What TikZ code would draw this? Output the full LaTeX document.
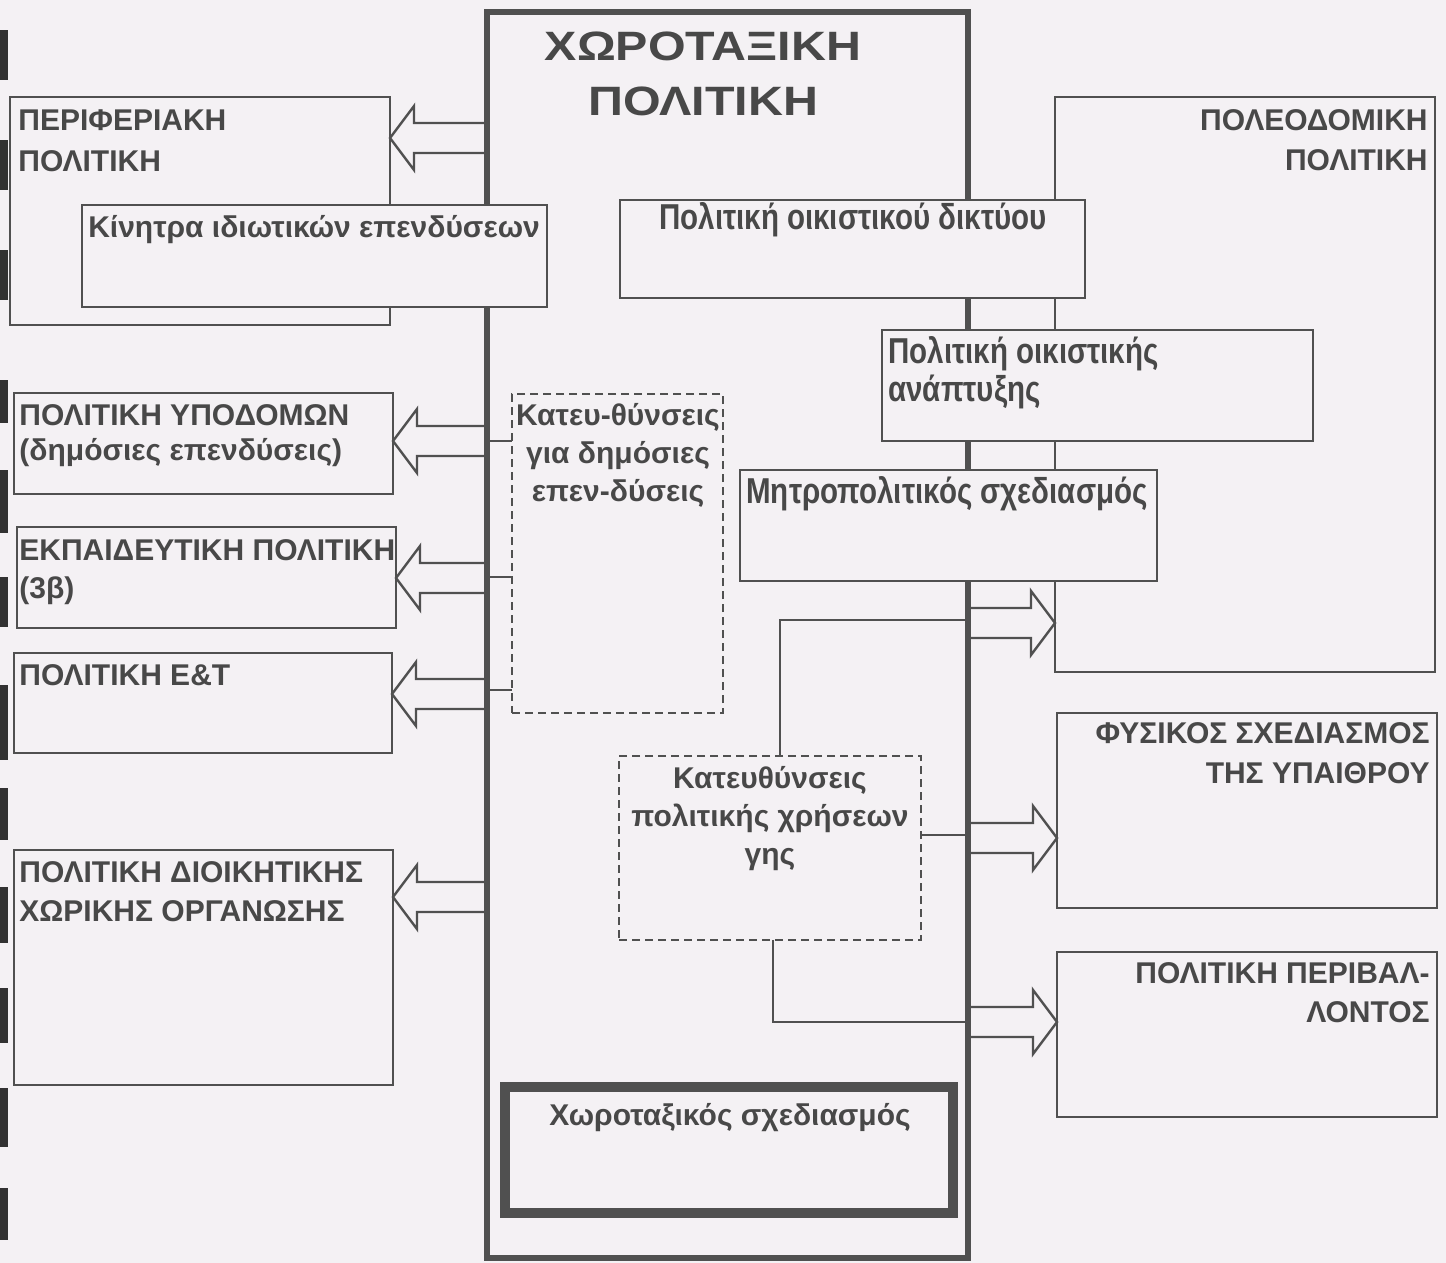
\documentclass[tikz,border=0pt]{standalone}
\usepackage{fontspec}
\setmainfont{Liberation Sans}
\newfontfamily\nfont{Liberation Sans}[FakeStretch=0.82]
\newfontfamily\tfont{Liberation Sans}[FakeStretch=1.18]
\usetikzlibrary{calc}
\definecolor{bg}{RGB}{244,241,244}
\definecolor{ln}{RGB}{80,80,80}
\definecolor{tx}{RGB}{72,72,72}
\definecolor{mk}{RGB}{50,50,50}
\tikzset{
  box/.style={draw=ln, line width=1.2pt, fill=bg, inner sep=0pt, outer sep=0pt, anchor=north west},
  mainbox/.style={box, line width=3pt},
  planbox/.style={box, line width=5pt},
  dbox/.style={box, line width=1pt, dash pattern=on 4pt off 2.5pt},
  conn/.style={draw=ln, line width=1.2pt, line join=miter},
  txt/.style={text=tx, inner sep=0pt, font=\fontsize{15}{18}\selectfont\bfseries},
  ntxt/.style={text=tx, inner sep=0pt, font=\fontsize{18}{21}\selectfont\nfont\bfseries},
  ttl/.style={text=tx, inner sep=0pt, font=\fontsize{20.5}{24}\selectfont\tfont\bfseries},
  scanmark/.style={fill=mk}
}
\newcommand\mkbox[6]{\node[#2, minimum width={(#5-#3)*0.5pt}, minimum height={(#6-#4)*0.5pt}] (#1) at (#3,#4) {};}
% hollow arrow pointing left: #1 source node, #2 target node, #3 y
\newcommand\larrow[3]{%
  \path (#1.west |- 0,#3) coordinate (aB) (#2.east |- 0,#3) coordinate (aT);
  \draw[conn] ($(aB)+(0,-15)$) -- ($(aT)+(24,-15)$) -- ($(aT)+(24,-32)$) -- (aT)
     -- ($(aT)+(24,32)$) -- ($(aT)+(24,15)$) -- ($(aB)+(0,15)$);}
\newcommand\rarrow[3]{%
  \path (#1.east |- 0,#3) coordinate (aB) (#2.west |- 0,#3) coordinate (aT);
  \draw[conn] ($(aB)+(0,-15)$) -- ($(aT)+(-24,-15)$) -- ($(aT)+(-24,-32)$) -- (aT)
     -- ($(aT)+(-24,32)$) -- ($(aT)+(-24,15)$) -- ($(aB)+(0,15)$);}
\begin{document}
\begin{tikzpicture}[x=0.5pt,y=-0.5pt]
\useasboundingbox (0,0) rectangle (1446,1263);
\fill[bg] (0,0) rectangle (1446,1263);
% scan marks on the left edge
\foreach \a/\b in {30/80,140/190,250/300,380/423,470/533,577/627,685/760,788/840,887/943,988/1043,1088/1147,1188/1240}
  \fill[scanmark] (0,\a) rectangle (8,\b);
% main box
\mkbox{main}{mainbox}{487}{12}{968}{1258}
\node[ttl, anchor=base] (title1) at (703,61) {ΧΩΡΟΤΑΞΙΚΗ};
\node[ttl, anchor=base] (title2) at (703,116) {ΠΟΛΙΤΙΚΗ};
% background boxes
\mkbox{perif}{box}{10}{97}{390}{325}
\mkbox{poleod}{box}{1055}{97}{1435}{672}
\mkbox{ypod}{box}{14}{393}{393}{494}
\mkbox{ekp}{box}{17}{527}{396}{628}
\mkbox{et}{box}{14}{653}{392}{753}
\mkbox{dioik}{box}{14}{850}{393}{1085}
\mkbox{fys}{box}{1057}{713}{1437}{908}
\mkbox{periv}{box}{1057}{952}{1437}{1117}
% arrows
\larrow{main}{perif}{138}
\larrow{main}{ypod}{441}
\larrow{main}{ekp}{578}
\larrow{main}{et}{694}
\larrow{main}{dioik}{897}
\rarrow{main}{poleod}{623}
\rarrow{main}{fys}{838}
\rarrow{main}{periv}{1022}
% overlaying boxes
\mkbox{kin}{box}{82}{205}{547}{307}
\mkbox{oikd}{box}{620}{200}{1085}{298}
\mkbox{oika}{box}{882}{330}{1313}{441}
\mkbox{mitro}{box}{740}{470}{1157}{581}
\mkbox{dA}{dbox}{512}{394}{723}{713}
\mkbox{dB}{dbox}{619}{756}{921}{940}
\mkbox{xwro}{planbox}{505}{1087}{953}{1213}
% connectors
\draw[conn] (main.west |- 0,441) -- (dA.west |- 0,441);
\draw[conn] (main.west |- 0,577) -- (dA.west |- 0,577);
\draw[conn] (main.west |- 0,690) -- (dA.west |- 0,690);
\draw[conn] ($(dB.north)+(10,0)$) |- (main.east |- 0,620);
\draw[conn] (dB.east |- 0,835) -- (main.east |- 0,835);
\draw[conn] ($(dB.south)+(3,0)$) |- (main.east |- 0,1022);
% texts
\node[txt, anchor=base west] (perif1) at (18,131) {ΠΕΡΙΦΕΡΙΑΚΗ};
\node[txt, anchor=base west] (perif2) at (18,171) {ΠΟΛΙΤΙΚΗ};
\node[txt, anchor=base] (kin1) at (314,237) {Κίνητρα ιδιωτικών επενδύσεων};
\node[txt, anchor=base west] (ypod1) at (19,425) {ΠΟΛΙΤΙΚΗ ΥΠΟΔΟΜΩΝ};
\node[txt, anchor=base west] (ypod2) at (19,460) {(δημόσιες επενδύσεις)};
\node[txt, anchor=base west] (ekp1) at (19,560) {ΕΚΠΑΙΔΕΥΤΙΚΗ ΠΟΛΙΤΙΚΗ};
\node[txt, anchor=base west] (ekp2) at (19,598) {(3β)};
\node[txt, anchor=base west] (et1) at (19,685) {ΠΟΛΙΤΙΚΗ Ε\&Τ};
\node[txt, anchor=base west] (dioik1) at (19,882) {ΠΟΛΙΤΙΚΗ ΔΙΟΙΚΗΤΙΚΗΣ};
\node[txt, anchor=base west] (dioik2) at (19,921) {ΧΩΡΙΚΗΣ ΟΡΓΑΝΩΣΗΣ};
\node[txt, anchor=base] (dA1) at (618,425) {Κατευ-θύνσεις};
\node[txt, anchor=base] (dA2) at (618,463) {για δημόσιες};
\node[txt, anchor=base] (dA3) at (618,501) {επεν-δύσεις};
\node[txt, anchor=base] (dB1) at (770,788) {Κατευθύνσεις};
\node[txt, anchor=base] (dB2) at (770,826) {πολιτικής χρήσεων};
\node[txt, anchor=base] (dB3) at (770,864) {γης};
\node[txt, anchor=base east] (pol1) at (1428,131) {ΠΟΛΕΟΔΟΜΙΚΗ};
\node[txt, anchor=base east] (pol2) at (1428,170) {ΠΟΛΙΤΙΚΗ};
\node[ntxt, anchor=base] (oikd1) at (853,229) {Πολιτική οικιστικού δικτύου};
\node[ntxt, anchor=base west] (oika1) at (888,363) {Πολιτική οικιστικής};
\node[ntxt, anchor=base west] (oika2) at (888,401) {ανάπτυξης};
\node[ntxt, anchor=base west] (mitro1) at (746,503) {Μητροπολιτικός σχεδιασμός};
\node[txt, anchor=base east] (fys1) at (1430,743) {ΦΥΣΙΚΟΣ ΣΧΕΔΙΑΣΜΟΣ};
\node[txt, anchor=base east] (fys2) at (1430,783) {ΤΗΣ ΥΠΑΙΘΡΟΥ};
\node[txt, anchor=base east] (periv1) at (1430,983) {ΠΟΛΙΤΙΚΗ ΠΕΡΙΒΑΛ-};
\node[txt, anchor=base east] (periv2) at (1430,1022) {ΛΟΝΤΟΣ};
\node[txt, anchor=base] (xwro1) at (730,1125) {Χωροταξικός σχεδιασμός};
\end{tikzpicture}
\end{document}
